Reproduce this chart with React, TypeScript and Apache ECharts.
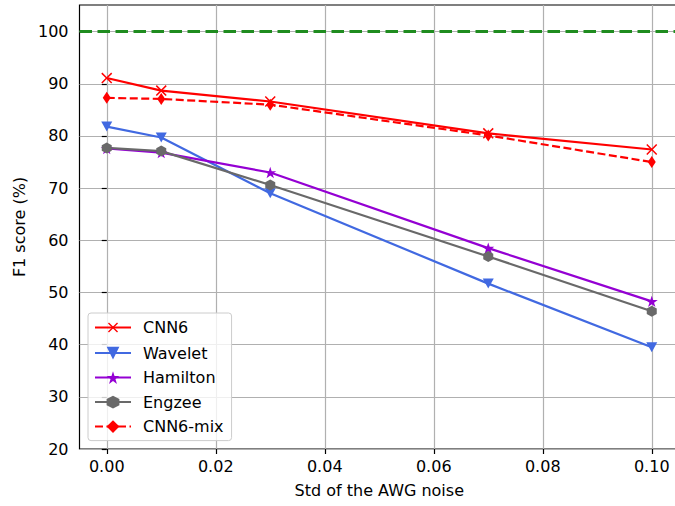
import React, { useEffect, useRef } from "react";
import * as echarts from "echarts";

const noiseStd = [0, 0.01, 0.03, 0.07, 0.1];
const cnn6 = [91.1, 88.7, 86.6, 80.5, 77.4];
const wavelet = [81.8, 79.7, 69.0, 51.7, 39.5];
const hamilton = [77.6, 76.8, 73.0, 58.5, 48.3];
const engzee = [77.7, 77.1, 70.6, 56.9, 46.4];
const cnn6mix = [87.3, 87.1, 86.0, 80.1, 75.0];
const referenceScore = 100;
const xTicks = [0, 0.02, 0.04, 0.06, 0.08, 0.1];
const yTicks = [20, 30, 40, 50, 60, 70, 80, 90, 100];

const FONT = "DejaVu Sans";

const X_SYMBOL =
  "path://M4.46,0H5.54V4.46H10V5.54H5.54V10H4.46V5.54H0V4.46H4.46Z";
const STAR_SYMBOL =
  "path://M0,-100L-22.45,-30.9L-95.11,-30.9L-36.33,11.8L-58.78,80.9L0,38.2L58.78,80.9L36.33,11.8L95.11,-30.9L22.45,-30.9Z";
const HEX_SYMBOL =
  "path://M0,-100L86.6,-50L86.6,50L0,100L-86.6,50L-86.6,-50Z";

function pairs(ys: number[]) {
  return noiseStd.map((x, i) => [x, ys[i]]);
}

export default function App() {
  const ref = useRef<HTMLDivElement>(null);
  useEffect(() => {
    if (!ref.current) return;
    const chart = echarts.init(ref.current, undefined, { renderer: "svg" });
    const base = {
      type: "line",
      showAllSymbol: true,
      emphasis: { disabled: true },
      silent: true,
    };
    chart.setOption({
      animation: false,
      backgroundColor: "#ffffff",
      textStyle: { fontFamily: FONT },
      grid: {
        left: 79.5,
        top: 5,
        width: 599.5,
        height: 444,
        show: true,
        borderColor: "#000000",
        borderWidth: 1.2,
        backgroundColor: "transparent",
      },
      xAxis: {
        type: "value",
        min: -0.005,
        max: 0.105,
        name: "Std of the AWG noise",
        nameLocation: "middle",
        nameGap: 33,
        nameTextStyle: { fontSize: 16, color: "#000", fontFamily: FONT },
        axisLine: { show: false },
        axisTick: {
          show: true,
          length: 5,
          lineStyle: { color: "#000", width: 1.2 },
          customValues: xTicks,
        },
        axisLabel: {
          fontSize: 16,
          color: "#000",
          fontFamily: FONT,
          margin: 9,
          customValues: xTicks,
          formatter: (v: number) => v.toFixed(2),
        },
        splitLine: { show: true, lineStyle: { color: "#b0b0b0", width: 1.2 } },
      },
      yAxis: {
        type: "value",
        min: 20,
        max: 105.1,
        name: "F1 score (%)",
        nameLocation: "middle",
        nameGap: 51,
        nameTextStyle: { fontSize: 16, color: "#000", fontFamily: FONT },
        axisLine: { show: false },
        axisTick: {
          show: true,
          length: 5,
          lineStyle: { color: "#000", width: 1.2 },
          customValues: yTicks,
        },
        axisLabel: {
          fontSize: 16,
          color: "#000",
          fontFamily: FONT,
          margin: 11,
          customValues: yTicks,
          formatter: (v: number) => String(Math.round(v)),
        },
        splitLine: { show: true, lineStyle: { color: "#b0b0b0", width: 1.2 } },
      },
      legend: {
        orient: "vertical",
        left: 88,
        top: 313,
        padding: [5.5, 8, 6, 6],
        itemWidth: 36,
        itemHeight: 16,
        itemGap: 8.5,
        backgroundColor: "rgba(255,255,255,0.8)",
        borderColor: "#cccccc",
        borderWidth: 1,
        borderRadius: 3,
        textStyle: {
          fontSize: 16,
          color: "#000",
          fontFamily: FONT,
          padding: [0, 0, 0, 7],
        },
        data: ["CNN6", "Wavelet", "Hamilton", "Engzee", "CNN6-mix"],
      },
      series: [
        {
          ...base,
          name: "reference",
          data: [],
          markLine: {
            silent: true,
            symbol: "none",
            label: { show: false },
            emphasis: { disabled: true },
            lineStyle: {
              color: "#1f8c1f",
              width: 3.2,
              type: [12.5, 5.5],
            },
            data: [{ yAxis: referenceScore }],
          },
        },
        {
          ...base,
          name: "CNN6",
          data: pairs(cnn6),
          symbol: X_SYMBOL,
          symbolSize: 14,
          symbolRotate: 45,
          itemStyle: { color: "#ff0000" },
          lineStyle: { color: "#ff0000", width: 2.2 },
        },
        {
          ...base,
          name: "Wavelet",
          data: pairs(wavelet),
          symbol: "triangle",
          symbolSize: [11, 10],
          symbolRotate: 180,
          itemStyle: { color: "#4169e1" },
          lineStyle: { color: "#4169e1", width: 2.2 },
        },
        {
          ...base,
          name: "Hamilton",
          data: pairs(hamilton),
          symbol: STAR_SYMBOL,
          symbolSize: [12, 11.4],
          itemStyle: { color: "#9400d3" },
          lineStyle: { color: "#9400d3", width: 2.2 },
        },
        {
          ...base,
          name: "Engzee",
          data: pairs(engzee),
          symbol: HEX_SYMBOL,
          symbolSize: [10, 11],
          itemStyle: { color: "#696969" },
          lineStyle: { color: "#696969", width: 2.2 },
        },
        {
          ...base,
          name: "CNN6-mix",
          data: pairs(cnn6mix),
          symbol: "diamond",
          symbolSize: [8, 12],
          itemStyle: { color: "#ff0000" },
          lineStyle: { color: "#ff0000", width: 2.2, type: [8, 3.5] },
        },
      ],
    });
    return () => chart.dispose();
  }, []);
  return (
    <div
      ref={ref}
      style={{
        position: "fixed",
        left: 0,
        top: 0,
        width: 690,
        height: 506,
        background: "#fff",
      }}
    />
  );
}
